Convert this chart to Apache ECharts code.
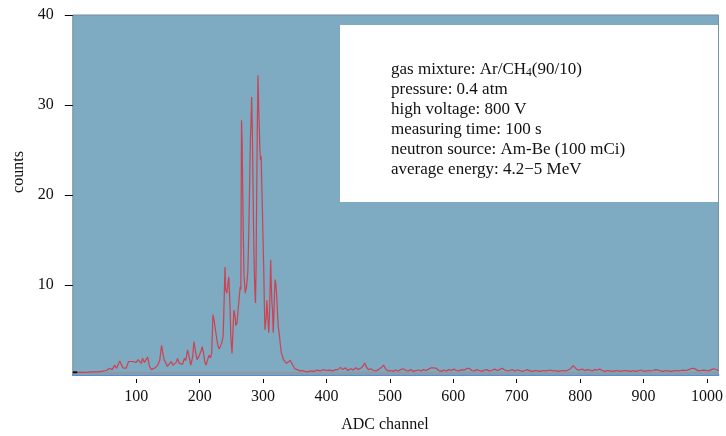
<!DOCTYPE html>
<html><head><meta charset="utf-8">
<script src="https://cdn.jsdelivr.net/npm/echarts/dist/echarts.min.js"></script>
<style>html,body{margin:0;padding:0;background:#fff}#c{width:726px;height:436px}</style>
</head><body><div id="c"></div>
<script>
const channels = [
  0,8,16,24,32,40,45,48,53,58,
  62,66,69,74,79,84,88,91,94,97,
  100,103,105,108,110,113,115,118,121,124,
  126,130,134,137,140,142,144,147,149,152,
  155,158,160,163,165,168,170,173,176,178,
  181,184,186,189,191,194,196,199,202,204,
  206,208,210,213,215,217,219,221,223,225,
  227,229,231,233,235,237,238,240,241,243,
  245,246,248,249,251,252,254,256,257,259,
  261,262,264,265,266,267,268,269,270,272,
  273,274,276,277,278,279,280,281,282,283,
  284,285,286,287,288,289,290,291,292,293,
  294,295,296,297,298,299,300,301,302,303,
  305,306,307,309,310,311,312,313,314,315,
  316,317,318,319,320,321,322,323,324,326,
  327,329,331,332,334,337,340,343,346,350,
  354,358,362,366,370,375,380,385,390,395,
  400,405,410,414,418,422,426,430,434,438,
  442,446,450,454,458,460,463,466,470,474,
  478,482,486,490,493,497,501,505,509,513,
  517,521,525,529,533,537,541,545,549,553,
  557,561,565,569,573,577,581,585,589,593,
  597,601,605,609,613,617,621,625,629,633,
  637,641,645,649,653,657,661,665,669,673,
  677,681,685,689,693,697,701,705,709,713,
  717,721,725,729,733,737,741,745,749,753,
  757,761,765,769,773,777,781,785,789,792,
  795,799,803,807,811,815,819,823,827,831,
  835,839,843,847,851,855,859,863,867,871,
  875,879,883,887,891,895,899,903,907,911,
  915,919,923,927,931,935,939,943,947,951,
  955,959,963,967,971,975,979,983,987,991,
  995,999,1003,1007,1011,1014,1018
];
const counts = [
  0.3,0.3,0.3,0.32,0.35,0.35,0.4,0.55,0.5,0.75,
  0.6,1.1,0.75,1.55,0.8,0.75,1.5,1.3,1.5,1.6,
  1.4,1.7,1.55,1.3,1.85,1.4,1.5,2.0,0.95,0.6,
  0.5,0.8,1.1,1.6,3.3,2.4,1.7,1.3,0.95,1.2,
  1.5,1.1,0.95,1.4,1.85,1.3,1.5,1.2,1.85,1.6,
  2.8,1.8,1.1,2.0,3.7,2.4,1.7,2.1,2.6,3.15,
  2.5,1.5,1.1,1.8,2.2,1.9,2.4,6.7,6.0,5.0,
  4.0,3.2,2.9,2.8,3.6,4.3,6.5,12.0,9.5,9.1,
  10.4,10.9,7.5,4.5,2.4,4.0,7.2,6.5,5.5,5.8,
  7.5,8.3,9.8,9.5,28.3,26.0,20.0,15.0,11.0,9.1,
  9.5,9.8,11.5,14.3,18.0,22.0,26.1,28.0,30.9,27.6,
  22.0,16.5,12.0,9.5,8.0,12.0,20.2,28.0,33.3,30.0,
  27.6,25.0,23.9,24.3,21.0,18.3,15.0,12.0,8.0,5.0,
  6.5,8.3,7.0,4.7,6.5,9.0,12.8,10.0,8.0,7.2,
  4.7,6.5,9.0,10.6,10.2,9.4,8.0,6.5,5.4,4.3,
  3.5,2.4,2.0,1.7,1.5,1.3,1.1,1.6,1.2,0.7,
  0.6,0.45,0.5,0.4,0.35,0.45,0.4,0.55,0.45,0.6,
  0.5,0.55,0.45,0.6,0.6,0.85,0.6,0.8,0.5,0.7,
  0.55,0.8,0.6,0.75,1.0,1.35,0.9,0.6,0.7,0.5,
  0.45,0.6,0.8,1.1,0.7,0.45,0.5,0.4,0.55,0.45,
  0.6,0.7,0.5,0.45,0.6,0.4,0.5,0.55,0.45,0.6,
  0.5,0.65,0.8,0.8,0.75,0.5,0.4,0.55,0.45,0.6,
  0.5,0.65,0.5,0.45,0.6,0.55,0.7,0.75,0.5,0.45,
  0.6,0.5,0.4,0.55,0.6,0.45,0.5,0.65,0.5,0.6,
  0.75,0.55,0.45,0.5,0.6,0.45,0.55,0.5,0.4,0.5,
  0.6,0.45,0.4,0.5,0.45,0.4,0.5,0.45,0.5,0.55,
  0.45,0.5,0.4,0.45,0.5,0.45,0.55,0.7,1.05,0.85,
  0.6,0.55,0.65,0.5,0.6,0.55,0.45,0.6,0.55,0.65,
  0.5,0.4,0.5,0.45,0.4,0.45,0.5,0.4,0.45,0.5,
  0.45,0.4,0.5,0.4,0.45,0.55,0.45,0.4,0.5,0.45,
  0.5,0.6,0.55,0.45,0.4,0.5,0.45,0.4,0.45,0.5,
  0.45,0.5,0.55,0.5,0.6,0.7,0.75,0.6,0.45,0.5,
  0.55,0.5,0.45,0.6,0.7,0.6,0.5
];
const startChannels = [0, 7];
const startCounts = [0.3, 0.3];
const infoLines = [
  '{a|gas mixture: Ar/CH}{s|4}{a|(90/10)}',
  '{a|pressure: 0.4 atm}',
  '{a|high voltage: 800 V}',
  '{a|measuring time: 100 s}',
  '{a|neutron source: Am-Be (100 mCi)}',
  '{a|average energy: 4.2\u22125 MeV}'
];
const SERIF = '"Liberation Serif","Times New Roman",serif';

const chart = echarts.init(document.getElementById('c'), null, {renderer: 'canvas'});
const graphics = [
  {type: 'rect', shape: {x: 340, y: 25, width: 378, height: 177}, style: {fill: '#ffffff'}, z: 10},
  {type: 'text', x: 19, y: 172, rotation: Math.PI / 2,
   style: {text: 'counts', font: '16px ' + SERIF, fill: '#111', textAlign: 'center', textVerticalAlign: 'middle'}},
  {type: 'text', x: 385, y: 425,
   style: {text: 'ADC channel', font: '16px ' + SERIF, fill: '#111', textAlign: 'center', textVerticalAlign: 'middle'}}
];
infoLines.forEach((t, i) => {
  graphics.push({type: 'text', x: 391, y: 70 + i * 20, z: 11,
    style: {text: t, textAlign: 'left', textVerticalAlign: 'middle',
      rich: {
        a: {fontSize: 17, fontFamily: SERIF, fill: '#111', color: '#111', lineHeight: 18},
        s: {fontSize: 11.5, fontFamily: SERIF, fill: '#111', color: '#111', lineHeight: 11, verticalAlign: 'bottom'}
      }}});
});

chart.setOption({
  animation: false,
  grid: {left: 72.8, right: 3, top: 15, bottom: 61, show: true, backgroundColor: '#7eaac2', borderColor: '#6f8d9e', borderWidth: 1},
  xAxis: [
    {type: 'value', min: 0, max: 1018, interval: 100, position: 'bottom', offset: 1,
     axisLine: {show: true, lineStyle: {color: '#4a8fe3', width: 2}},
     axisTick: {show: false}, axisLabel: {show: false}, splitLine: {show: false}},
    {type: 'value', min: 0, max: 1018, interval: 100, position: 'bottom', offset: 4,
     axisLine: {show: false},
     axisTick: {show: true, length: 4, lineStyle: {color: '#000'}},
     axisLabel: {margin: 10, color: '#111', fontSize: 16, fontFamily: SERIF, showMinLabel: false, showMaxLabel: false,
       formatter: v => String(v)},
     splitLine: {show: false}}
  ],
  yAxis: {type: 'value', min: 0, max: 40, interval: 10, offset: 1,
    axisLine: {show: false},
    axisTick: {show: true, length: 8, lineStyle: {color: '#000'}},
    axisLabel: {margin: 18, color: '#111', fontSize: 16, fontFamily: SERIF, showMinLabel: false},
    splitLine: {show: false}},
  series: [
    {type: 'line', xAxisIndex: 0, data: [], z: 1, silent: true,
     markArea: {silent: true, itemStyle: {color: '#8c9ca6'}, data: [[{yAxis: 0}, {yAxis: 0.35}]]}},
    {type: 'line', xAxisIndex: 0, z: 3, showSymbol: false, silent: true,
     data: channels.map((c, i) => [c, counts[i]]),
     lineStyle: {color: '#dc2f3c', width: 1.2, opacity: 0.85}},
    {type: 'line', xAxisIndex: 0, z: 4, showSymbol: false, silent: true,
     data: startChannels.map((c, i) => [c, startCounts[i]]),
     lineStyle: {color: '#111', width: 2}}
  ],
  graphic: graphics
});
</script>
</body></html>
